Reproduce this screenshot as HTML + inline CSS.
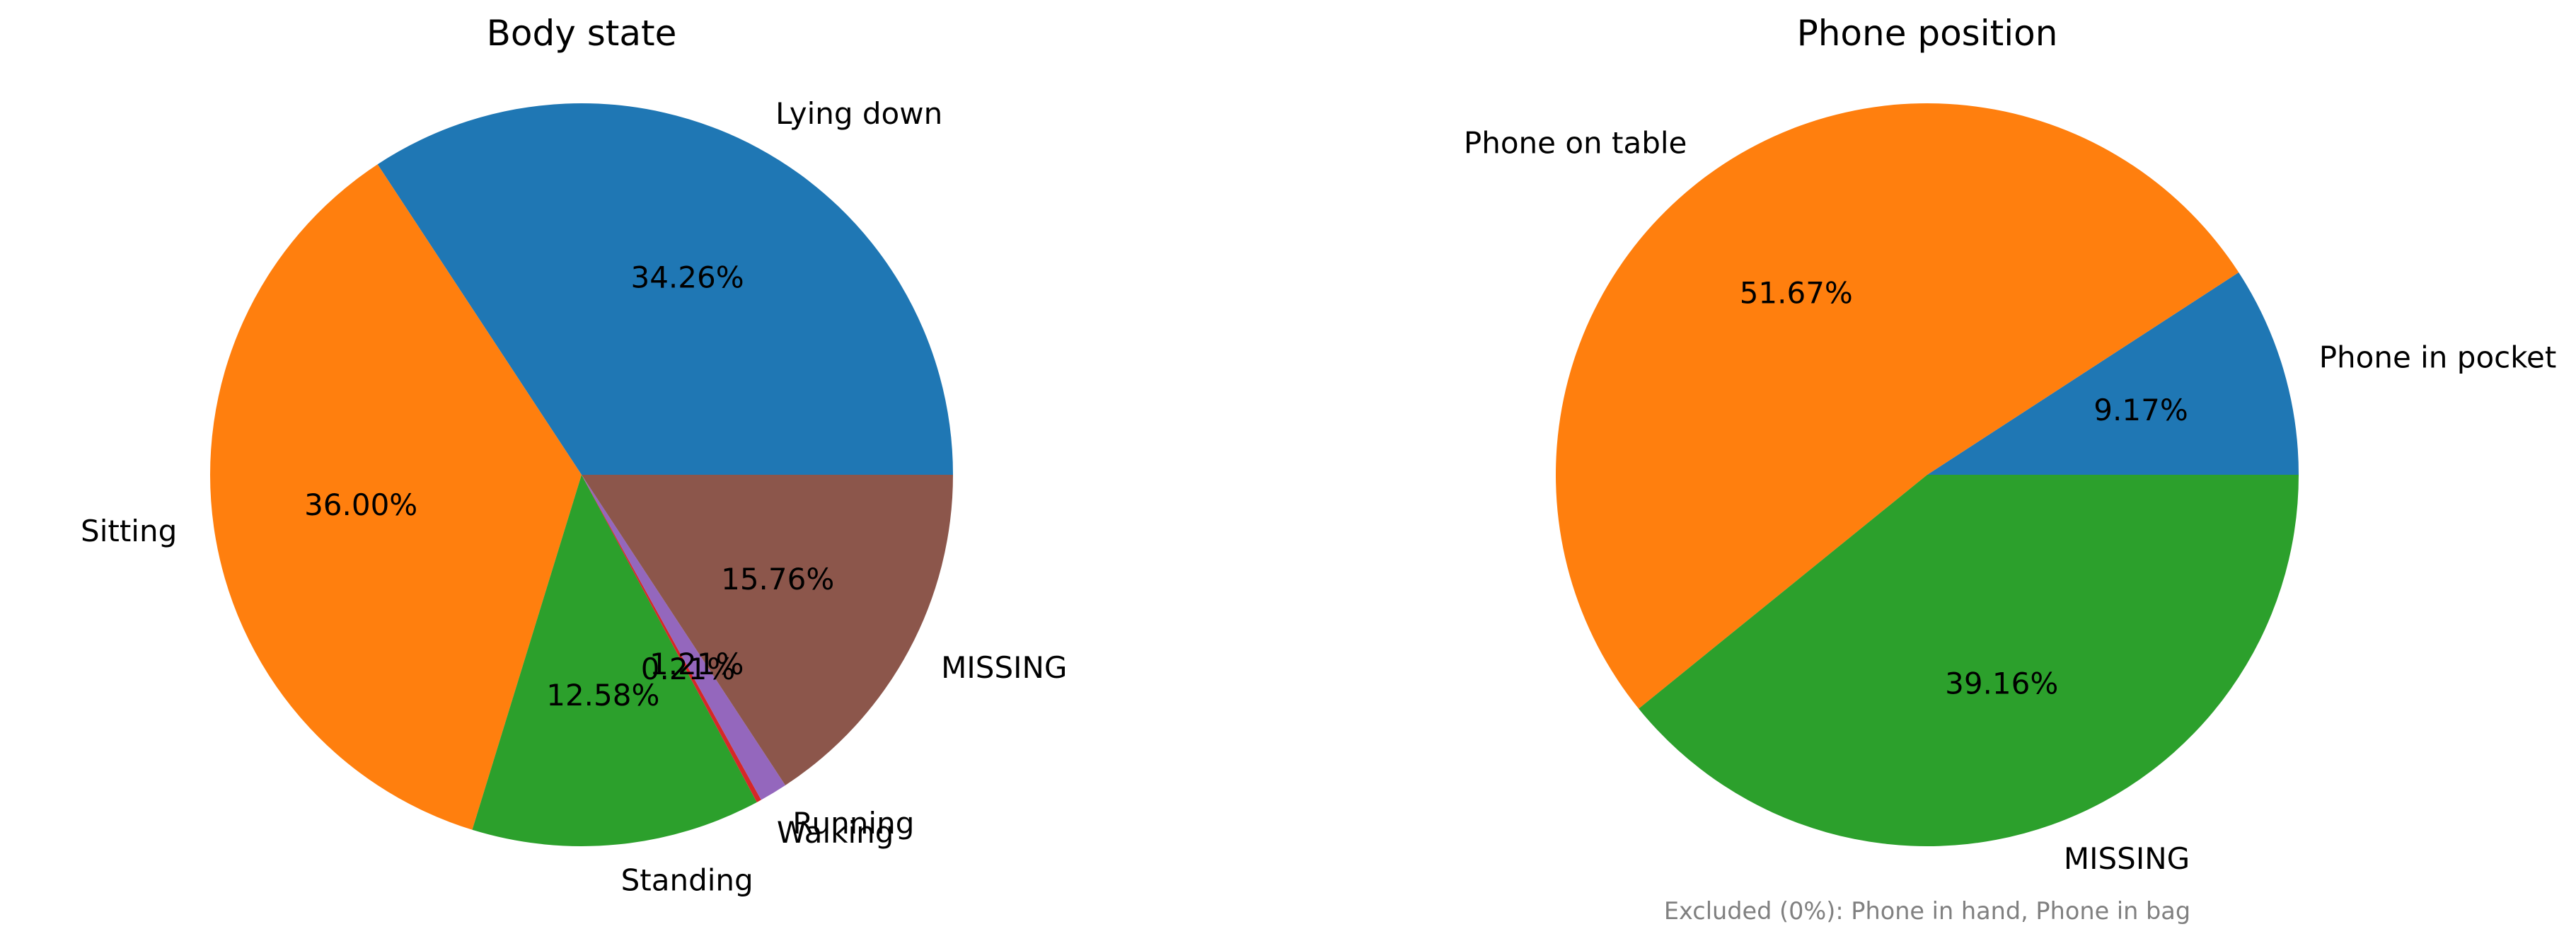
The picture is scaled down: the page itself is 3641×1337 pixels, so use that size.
<!DOCTYPE html>
<html>
<head>
<meta charset="utf-8">
<style>
  html,body{margin:0;padding:0;background:#fff;}
  svg{display:block;font-family:"DejaVu Sans","Liberation Sans",sans-serif;}
</style>
</head>
<body>
<svg id="chart" width="3641" height="1337" viewBox="0 0 3641 1337" xmlns="http://www.w3.org/2000/svg">
  <text x="822" y="64" font-size="50" text-anchor="middle" fill="#000">Body state</text>
  <text x="2724" y="64" font-size="50" text-anchor="middle" fill="#000">Phone position</text>
  <text x="2724" y="1299" font-size="33.5" text-anchor="middle" fill="#808080">Excluded (0%): Phone in hand, Phone in bag</text>
</svg>
<script>
const bodyLabels = ["Lying down","Sitting","Standing","Walking","Running","MISSING"];
const bodyValues = [34.26, 36.00, 12.58, 0.21, 1.21, 15.76];
const phoneLabels = ["Phone in pocket","Phone on table","MISSING"];
const phoneValues = [9.17, 51.67, 39.16];

const colors = ["#1f77b4","#ff7f0e","#2ca02c","#d62728","#9467bd","#8c564b"];
const svg = document.getElementById('chart');
const NS = "http://www.w3.org/2000/svg";

function drawPie(labels, values, cx, cy, r, prefix){
  const total = values.reduce((a,b)=>a+b,0);
  let a0 = 0;
  const g = document.createElementNS(NS,'g');
  
  
  svg.appendChild(g);
  const texts = [];
  values.forEach((v,i)=>{
    const frac = v/total;
    const a1 = a0 + frac*2*Math.PI;
    const x0 = cx + r*Math.cos(a0), y0 = cy - r*Math.sin(a0);
    const x1 = cx + r*Math.cos(a1), y1 = cy - r*Math.sin(a1);
    const large = (a1-a0) > Math.PI ? 1 : 0;
    const p = document.createElementNS(NS,'path');
    p.setAttribute('d', `M${cx},${cy} L${x0},${y0} A${r},${r} 0 ${large} 0 ${x1},${y1} Z`);
    p.setAttribute('fill', colors[i % colors.length]);
    
    
    g.appendChild(p);
    const am = (a0+a1)/2;
    const lx = cx + 1.1*r*Math.cos(am), ly = cy - 1.1*r*Math.sin(am) - 2;
    const t = document.createElementNS(NS,'text');
    t.setAttribute('x', lx); t.setAttribute('y', ly);
    t.setAttribute('font-size', '42');
    t.setAttribute('dominant-baseline', 'central');
    t.setAttribute('text-anchor', Math.cos(am) >= 0 ? 'start' : 'end');
    t.textContent = labels[i];
    
    
    texts.push(t);
    const px = cx + 0.6*r*Math.cos(am), py = cy - 0.6*r*Math.sin(am) - 2;
    const tp = document.createElementNS(NS,'text');
    tp.setAttribute('x', px); tp.setAttribute('y', py);
    tp.setAttribute('font-size', '42');
    tp.setAttribute('dominant-baseline', 'central');
    tp.setAttribute('text-anchor', 'middle');
    tp.textContent = v.toFixed(2) + '%';
    
    
    texts.push(tp);
    a0 = a1;
  });
  texts.forEach(t=>g.appendChild(t));
}
drawPie(bodyLabels, bodyValues, 822, 671, 525, 'body');
drawPie(phoneLabels, phoneValues, 2724, 671, 525, 'phone');
</script>
</body>
</html>
